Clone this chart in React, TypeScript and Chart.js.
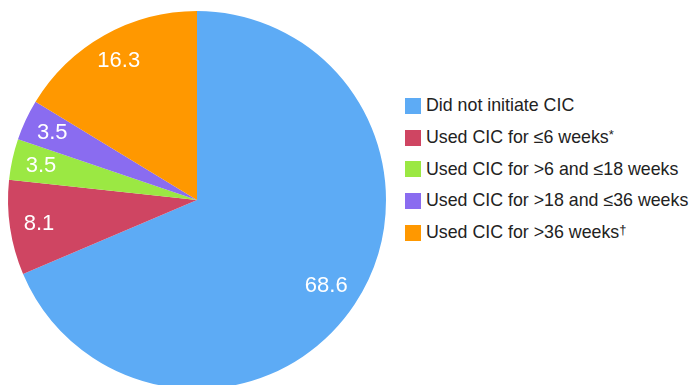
import React, { useEffect, useRef } from "react";
import { Chart, registerables } from "chart.js";

Chart.register(...registerables);

const categories = [
  "Did not initiate CIC",
  "Used CIC for ≤6 weeks*",
  "Used CIC for >6 and ≤18 weeks",
  "Used CIC for >18 and ≤36 weeks",
  "Used CIC for >36 weeks†",
];
const values = [68.6, 8.1, 3.5, 3.5, 16.3];
const colors = ["#5DABF5", "#CF4562", "#9BE843", "#8A6CF0", "#FF9800"];

const labelPlugin = {
  id: "sliceLabels",
  afterDatasetsDraw(chart: any) {
    const ctx = chart.ctx;
    const meta = chart.getDatasetMeta(0);
    ctx.save();
    ctx.fillStyle = "#ffffff";
    ctx.font = "22px 'Liberation Sans', Arial, sans-serif";
    ctx.textAlign = "center";
    ctx.textBaseline = "middle";
    meta.data.forEach((arc: any, i: number) => {
      const p = arc.getProps(["x", "y", "startAngle", "endAngle", "outerRadius"], true);
      const mid = (p.startAngle + p.endAngle) / 2;
      const r = p.outerRadius * (i === 0 ? 0.82 : 0.845);
      ctx.fillText(values[i].toFixed(1), p.x + Math.cos(mid) * r, p.y + Math.sin(mid) * r);
    });
    ctx.restore();
  },
};

function LegendText({ text }: { text: string }) {
  const last = text.slice(-1);
  const style = { fontSize: 17.8, color: "#222222" };
  if (last === "*" || last === "†") {
    return (
      <span style={style}>
        {text.slice(0, -1)}
        <span style={{ fontSize: 13, verticalAlign: "4px" }}>{last}</span>
      </span>
    );
  }
  return <span style={style}>{text}</span>;
}

export default function App() {
  const ref = useRef<HTMLCanvasElement>(null);
  useEffect(() => {
    if (!ref.current) return;
    const chart = new Chart(ref.current, {
      type: "pie",
      data: {
        labels: categories,
        datasets: [
          {
            data: values,
            backgroundColor: colors,
            borderWidth: 0,
          },
        ],
      },
      options: {
        responsive: false,
        animation: false,
        layout: { padding: { left: 8, right: 8, top: 11, bottom: 11 } },
        plugins: {
          legend: { display: false },
          tooltip: { enabled: false },
        },
      },
      plugins: [labelPlugin],
    });
    return () => chart.destroy();
  }, []);

  return (
    <div
      style={{
        position: "fixed",
        left: 0,
        top: 0,
        width: 690,
        height: 385,
        overflow: "hidden",
        background: "#ffffff",
        fontFamily: "'Liberation Sans', Arial, sans-serif",
      }}
    >
      <canvas
        ref={ref}
        width={394}
        height={400}
        style={{ position: "absolute", left: 0, top: 0, display: "block" }}
      />
      <div style={{ position: "absolute", left: 405, top: 90, display: "flex", flexDirection: "column" }}>
        {categories.map((c, i) => (
          <div
            key={c}
            style={{ height: 31.7, display: "flex", alignItems: "center", whiteSpace: "nowrap" }}
          >
            <span
              style={{
                width: 16,
                height: 16,
                background: colors[i],
                display: "inline-block",
                marginRight: 5,
                flex: "none",
              }}
            />
            <LegendText text={c} />
          </div>
        ))}
      </div>
    </div>
  );
}
